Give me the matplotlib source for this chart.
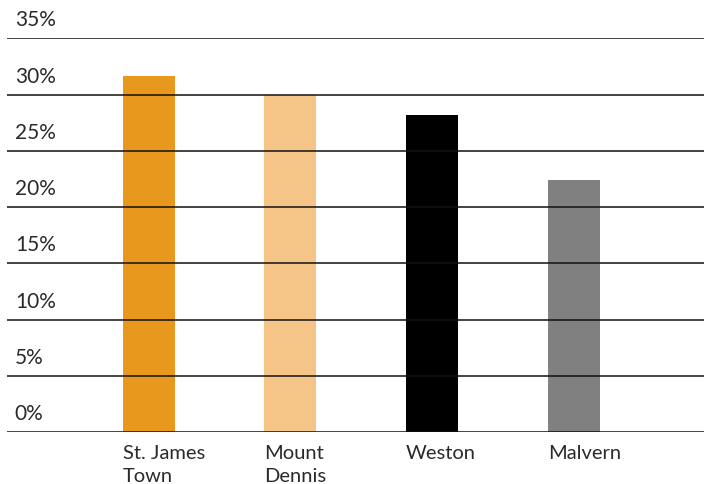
import matplotlib
matplotlib.use("Agg")
import matplotlib.pyplot as plt

# Share of population by neighbourhood (%)
neighbourhoods = ["St. James\nTown", "Mount\nDennis", "Weston", "Malvern"]
shares = [31.7, 30.0, 28.2, 22.4]
bar_colors = ["#E8981D", "#F4C587", "#000000", "#808080"]
y_ticks = [0, 5, 10, 15, 20, 25, 30, 35]

plt.rcParams["font.family"] = ["Lato", "DejaVu Sans"]

fig = plt.figure(figsize=(7.04, 4.85), dpi=100)
ax = fig.add_axes([0.01, 0.1072, 0.99, 0.8114])

x = list(range(len(neighbourhoods)))
width = 0.367
ax.bar(x, shares, width=width, color=bar_colors, zorder=1)

# horizontal rules drawn over the bars
for t in y_ticks:
    ax.axhline(t, color="#111111", linewidth=1.1, zorder=2)
    ax.text(-0.945, t + 0.8, f"{t}%", fontsize=15, color="#2a2a2a",
            ha="left", va="bottom", zorder=3)

# category labels, left aligned with each bar
for xi, name in zip(x, neighbourhoods):
    ax.text(xi - width / 2, -1.05, name, fontsize=14.5, color="#2a2a2a",
            ha="left", va="top", linespacing=1.42)

ax.set_xlim(-1.0, 3.92)
ax.set_ylim(0, 35)
ax.axis("off")

fig.savefig("out.png", dpi=100)
